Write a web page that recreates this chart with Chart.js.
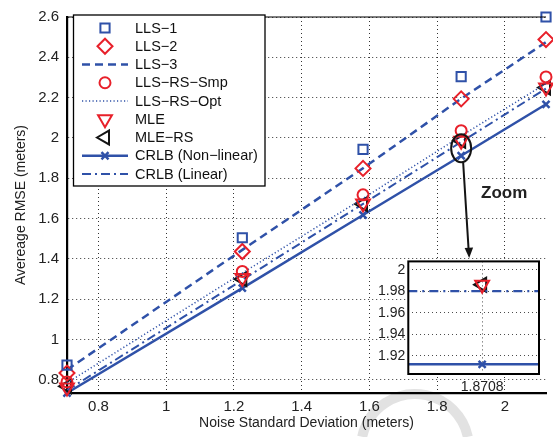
<!DOCTYPE html>
<html><head><meta charset="utf-8">
<script src="https://cdn.jsdelivr.net/npm/chart.js@4.4.1/dist/chart.umd.min.js"></script>
<style>
html,body{margin:0;padding:0;background:#fff;overflow:hidden;width:553px;height:437px;}
#wrap{position:relative;width:553px;height:437px;overflow:hidden;}
#main{position:absolute;left:0;top:0;width:556px;height:437px;}
#inset{position:absolute;left:360px;top:250px;width:190px;height:150px;}
</style></head><body>
<div id="wrap"><canvas id="main" width="556" height="437"></canvas><canvas id="inset" width="190" height="150"></canvas></div>
<script>
// ---- data ----
const sigma      = [0.7071, 1.2247, 1.5811, 1.8708, 2.1213];
const lls1       = [0.873, 1.505, 1.943, 2.304, 2.600];
const lls2       = [0.834, 1.437, 1.849, 2.194, 2.488];
const lls3       = [0.850, 1.445, 1.850, 2.195, 2.475];
const llsRsSmp   = [0.790, 1.338, 1.718, 2.036, 2.303];
const llsRsOpt   = [0.785, 1.330, 1.700, 2.010, 2.270];
const mle        = [0.762, 1.305, 1.675, 1.986, 2.250];
const mleRs      = [0.768, 1.300, 1.672, 1.986, 2.250];
const crlbNL     = [0.735, 1.255, 1.618, 1.912, 2.167];
const crlbL      = [0.748, 1.296, 1.673, 1.980, 2.245];
const xTicks      = [0.8, 1.0, 1.2, 1.4, 1.6, 1.8, 2.0];
const xTickLabels = ['0.8','1','1.2','1.4','1.6','1.8','2'];
const yTicks      = [0.8, 1.0, 1.2, 1.4, 1.6, 1.8, 2.0, 2.2, 2.4, 2.6];
const yTickLabels = ['0.8','1','1.2','1.4','1.6','1.8','2','2.2','2.4','2.6'];
const insetYTicks      = [1.92, 1.94, 1.96, 1.98, 2.0];
const insetYTickLabels = ['1.92','1.94','1.96','1.98','2'];
const insetXTickLabels = ['1.8708'];
const zoomIndex = 3;

const BLUE = '#2f51a8', RED = '#e8202a', BLACK = '#141414';
const FONT = "'Liberation Sans', Arial, Helvetica, sans-serif";
Chart.defaults.font.family = FONT;
Chart.defaults.color = '#222';

function pts(vals){ return sigma.map((x,i)=>({x:x, y:vals[i]})); }
function marker(label, vals, style, radius, color, rot){
  return {label, data: pts(vals), showLine:false, pointStyle:style, pointRadius:radius, pointHoverRadius:radius,
    pointRotation: rot||0, pointBorderWidth:2, pointBorderColor:color, borderColor:color,
    pointBackgroundColor:'rgba(0,0,0,0)', backgroundColor:'rgba(0,0,0,0)', clip:false};
}
function line(label, vals, dash, width, color, extra){
  return Object.assign({label, data: pts(vals), showLine:true, borderDash:dash, borderWidth:width, borderColor:color,
    backgroundColor:'rgba(0,0,0,0)', pointRadius:0, pointHoverRadius:0, tension:0, fill:false, clip:false}, extra||{});
}

const datasets = [
  marker('LLS\u22121', lls1, 'rect', 6.5, BLUE),
  marker('LLS\u22122', lls2, 'rectRot', 7.5, RED),
  line('LLS\u22123', lls3, [8,5], 2.5, BLUE),
  marker('LLS\u2212RS\u2212Smp', llsRsSmp, 'circle', 5.5, RED),
  line('LLS\u2212RS\u2212Opt', llsRsOpt, [1.2,2.3], 1.5, BLUE),
  marker('MLE', mle, 'triangle', 8, RED, 180),
  marker('MLE\u2212RS', mleRs, 'triangle', 8, BLACK, -90),
  line('CRLB (Non\u2212linear)', crlbNL, [], 2.5, BLUE, {pointStyle:'crossRot', pointRadius:5, pointHoverRadius:5, pointBorderWidth:2.5, pointBorderColor:BLUE}),
  line('CRLB (Linear)', crlbL, [9,4,2,4], 2, BLUE)
];

function drawMarker(ctx, ds, x, y){
  ctx.save();
  ctx.setLineDash([]);
  ctx.strokeStyle = ds.pointBorderColor || ds.borderColor;
  ctx.fillStyle = 'rgba(0,0,0,0)';
  ctx.lineWidth = ds.pointBorderWidth || 2;
  Chart.helpers.drawPoint(ctx, {pointStyle: ds.pointStyle, rotation: ds.pointRotation||0,
    radius: ds.pointRadius, borderWidth: ds.pointBorderWidth||2}, x, y);
  ctx.restore();
}

const mainPlugin = {
  id:'mainDeco',
  beforeDraw(chart){
    const ctx = chart.ctx;
    ctx.save();
    ctx.fillStyle = '#fff';
    ctx.fillRect(0,0,chart.width,chart.height);
    // faint watermark arc
    ctx.strokeStyle = '#e2e2e2';
    ctx.lineWidth = 10;
    ctx.beginPath();
    ctx.arc(415, 448, 54, Math.PI*192/180, Math.PI*348/180);
    ctx.stroke();
    ctx.restore();
  },
  afterDraw(chart){
    const ctx = chart.ctx, a = chart.chartArea;
    const xs = chart.scales.x, ys = chart.scales.y;
    ctx.save();
    // top box edge
    ctx.strokeStyle = '#000'; ctx.lineWidth = 1.2; ctx.setLineDash([]);
    ctx.beginPath(); ctx.moveTo(a.left, a.top); ctx.lineTo(a.right, a.top); ctx.stroke();
    // ellipse around the zoomed points
    const cx = xs.getPixelForValue(sigma[zoomIndex]);
    const cy = ys.getPixelForValue((mle[zoomIndex] + crlbNL[zoomIndex]) / 2);
    ctx.strokeStyle = BLACK; ctx.lineWidth = 2;
    ctx.beginPath(); ctx.ellipse(cx, cy, 10, 14, 0, 0, Math.PI*2); ctx.stroke();
    // arrow
    const ax0 = cx + 2, ay0 = cy + 14, ax1 = cx + 8, ay1 = 258;
    ctx.beginPath(); ctx.moveTo(ax0, ay0); ctx.lineTo(ax1 - 0.5, ay1 - 8); ctx.stroke();
    ctx.fillStyle = BLACK;
    ctx.beginPath(); ctx.moveTo(ax1, ay1); ctx.lineTo(ax1 - 4.5, ay1 - 10); ctx.lineTo(ax1 + 4, ay1 - 10.5); ctx.closePath(); ctx.fill();
    // "Zoom" label
    ctx.font = 'bold 17px ' + FONT; ctx.fillStyle = '#222'; ctx.textAlign = 'left'; ctx.textBaseline = 'alphabetic';
    ctx.fillText('Zoom', 481, 197.5);
    // legend
    const L = {x0:73.5, y0:15, x1:265, y1:186, row0:28, dy:18.25, lx0:82, lx1:128, mx:105, tx:135};
    ctx.fillStyle = '#fff'; ctx.fillRect(L.x0, L.y0, L.x1-L.x0, L.y1-L.y0);
    ctx.strokeStyle = '#000'; ctx.lineWidth = 1.3; ctx.strokeRect(L.x0, L.y0, L.x1-L.x0, L.y1-L.y0);
    chart.data.datasets.forEach((ds, i) => {
      const y = L.row0 + i * L.dy;
      if (ds.showLine) {
        ctx.save();
        ctx.strokeStyle = ds.borderColor; ctx.lineWidth = ds.borderWidth; ctx.setLineDash(ds.borderDash || []);
        ctx.beginPath(); ctx.moveTo(L.lx0, y); ctx.lineTo(L.lx1, y); ctx.stroke();
        ctx.restore();
      }
      if (ds.pointRadius > 0) drawMarker(ctx, ds, L.mx, y);
      ctx.fillStyle = '#111'; ctx.font = '14.5px ' + FONT; ctx.textBaseline = 'middle'; ctx.textAlign = 'left';
      ctx.fillText(ds.label, L.tx, y + 0.5);
    });
    ctx.restore();
  }
};

const mainChart = new Chart(document.getElementById('main'), {
  type:'scatter',
  data:{datasets},
  options:{
    responsive:false, animation:false, devicePixelRatio:1,
    layout:{padding:{top:10, right:0, bottom:0, left:0}},
    plugins:{legend:{display:false}, tooltip:{enabled:false}},
    scales:{
      x:{type:'linear', min:sigma[0], max:sigma[sigma.length-1],
        afterFit(s){ s.height = 44; },
        afterBuildTicks(s){ s.ticks = xTicks.map(v=>({value:v})); },
        ticks:{padding:5, font:{size:15}, color:'#222', callback:(v,i)=>xTickLabels[i]},
        grid:{color:'rgba(0,0,0,0.8)', lineWidth:1, drawTicks:false},
        border:{display:true, color:'#000', width:2.2, dash:[1,3]},
        title:{display:true, text:'Noise Standard Deviation (meters)', font:{size:14}, color:'#222', padding:{top:0, bottom:5.6}}
      },
      y:{type:'linear', min:crlbNL[0], max:2.6,
        afterFit(s){ s.width = 67; },
        afterBuildTicks(s){ s.ticks = yTicks.map(v=>({value:v})); },
        ticks:{padding:8, font:{size:15}, color:'#222', callback:(v,i)=>yTickLabels[i]},
        grid:{color:'rgba(0,0,0,0.8)', lineWidth:1, drawTicks:false},
        border:{display:true, color:'#000', width:2.2, dash:[1,3]},
        title:{display:true, text:'Avereage RMSE (meters)', font:{size:14}, color:'#222', padding:{top:12.6, bottom:0}}
      }
    }
  },
  plugins:[mainPlugin]
});

// ---- inset ----
const insetMin = 1.8595, insetMax = 1.8795;
const insetPlugin = {
  id:'insetDeco',
  beforeDraw(chart){
    const ctx = chart.ctx, a = chart.chartArea;
    ctx.save(); ctx.fillStyle = '#fff'; ctx.fillRect(a.left, a.top, a.right-a.left, a.bottom-a.top); ctx.restore();
  },
  afterDraw(chart){
    const ctx = chart.ctx, a = chart.chartArea;
    ctx.save(); ctx.strokeStyle = '#000'; ctx.lineWidth = 2; ctx.setLineDash([]);
    ctx.strokeRect(a.left, a.top, a.right-a.left, a.bottom-a.top); ctx.restore();
  }
};
const k = zoomIndex;
const insetChart = new Chart(document.getElementById('inset'), {
  type:'scatter',
  data:{datasets:[
    {label:'CRLB (Linear)', data:[{x:insetMin,y:crlbL[k]},{x:insetMax,y:crlbL[k]}], showLine:true, borderColor:BLUE, borderWidth:2.2,
      borderDash:[9,5,2,5], pointRadius:0, backgroundColor:'rgba(0,0,0,0)'},
    {label:'CRLB (Non\u2212linear)', data:[{x:insetMin,y:crlbNL[k]},{x:sigma[k],y:crlbNL[k]},{x:insetMax,y:crlbNL[k]}], showLine:true,
      borderColor:BLUE, borderWidth:2.5, pointRadius:[0,5,0], pointStyle:'crossRot', pointBorderWidth:2.5, pointBorderColor:BLUE, backgroundColor:'rgba(0,0,0,0)'},
    {label:'MLE', data:[{x:sigma[k], y:mle[k]}], pointStyle:'triangle', pointRotation:180, pointRadius:8, pointBorderWidth:2,
      pointBorderColor:RED, pointBackgroundColor:'rgba(0,0,0,0)'},
    {label:'MLE\u2212RS', data:[{x:sigma[k], y:mleRs[k]}], pointStyle:'triangle', pointRotation:-90, pointRadius:8, pointBorderWidth:2,
      pointBorderColor:BLACK, pointBackgroundColor:'rgba(0,0,0,0)'}
  ]},
  options:{
    responsive:false, animation:false, devicePixelRatio:1,
    layout:{padding:{top:10.7, right:11, bottom:0, left:0}},
    plugins:{legend:{display:false}, tooltip:{enabled:false}},
    scales:{
      x:{type:'linear', min:insetMin, max:insetMax,
        afterFit(s){ s.height = 26; },
        afterBuildTicks(s){ s.ticks = [{value:sigma[k]}]; },
        ticks:{padding:5, font:{size:14}, color:'#222', callback:(v,i)=>insetXTickLabels[i]},
        grid:{color:'rgba(0,0,0,0.7)', lineWidth:1, drawTicks:false},
        border:{display:false, dash:[1,3]}
      },
      y:{type:'linear', min:1.903, max:2.0077,
        afterFit(s){ s.width = 48.3; },
        afterBuildTicks(s){ s.ticks = insetYTicks.map(v=>({value:v})); },
        ticks:{padding:3, font:{size:14}, color:'#222', callback:(v,i)=>insetYTickLabels[i]},
        grid:{color:'rgba(0,0,0,0.7)', lineWidth:1, drawTicks:false},
        border:{display:false, dash:[1,3]}
      }
    }
  },
  plugins:[insetPlugin]
});
</script>
</body></html>
